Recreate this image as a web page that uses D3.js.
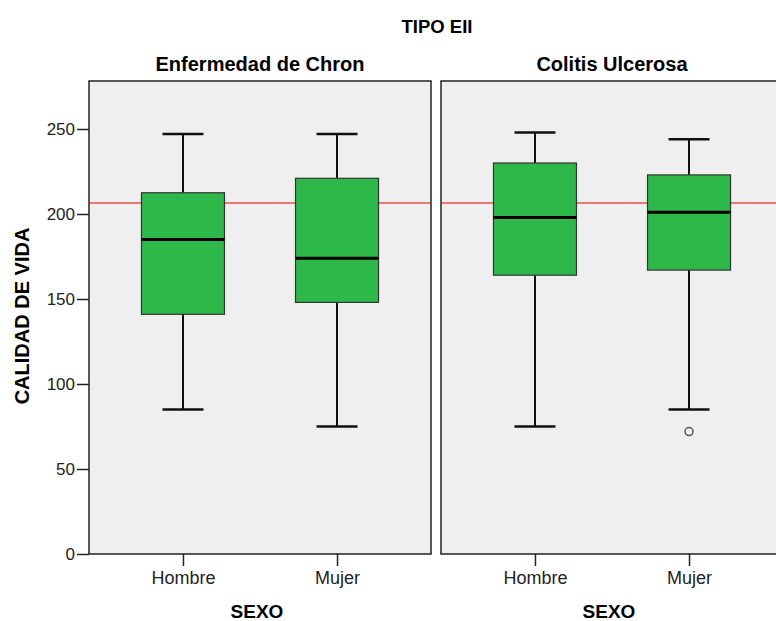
<!DOCTYPE html>
<html>
<head>
<meta charset="utf-8">
<script src="https://cdn.jsdelivr.net/npm/d3@7"></script>
<style>
  html, body { margin: 0; padding: 0; background: #ffffff; }
  svg { display: block; font-family: "Liberation Sans", Arial, sans-serif; }
</style>
</head>
<body>
<svg id="chart" width="776" height="621"></svg>
<script>
// Calidad de vida por sexo, separado por tipo de EII
const panels = ["Enfermedad de Chron", "Colitis Ulcerosa"];
const categories = ["Hombre", "Mujer"];
const yTicks = [0, 50, 100, 150, 200, 250];

// Box plot statistics, one row per panel, one entry per category
const whiskerLow  = [[85, 75], [75, 85]];
const q1          = [[141, 148], [164, 167]];
const medians     = [[185, 174], [198, 201]];
const q3          = [[212.5, 221], [230, 223]];
const whiskerHigh = [[247, 247], [248, 244]];
const outliers    = [[[], []], [[], [72]]];

// Reference line
const refValue = 206.5;

const svg = d3.select("#chart");
const width = 776;

const plotTop = 81, plotBottom = 554;
const panelWidth = 342, panelGap = 10;
const firstPanelLeft = 89;

const y = d3.scaleLinear().domain([0, 250]).range([plotBottom, plotBottom - 250 * 1.7]);

// Title
svg.append("text")
  .attr("x", 437).attr("y", 33)
  .attr("text-anchor", "middle")
  .attr("font-size", 18.5).attr("font-weight", "bold")
  .attr("fill", "#000")
  .text("TIPO EII");

// Y axis title
svg.append("text")
  .attr("transform", "translate(29,316) rotate(-90)")
  .attr("text-anchor", "middle")
  .attr("font-size", 20).attr("font-weight", "bold")
  .text("CALIDAD DE VIDA");

panels.forEach((name, p) => {
  const left = firstPanelLeft + p * (panelWidth + panelGap);
  const right = left + panelWidth;
  const x = d3.scalePoint().domain(categories).range([left, right]).padding(0.61);

  const g = svg.append("g");

  // Panel background
  g.append("rect")
    .attr("x", left).attr("y", plotTop)
    .attr("width", panelWidth).attr("height", plotBottom - plotTop)
    .attr("fill", "#efefef");

  // Reference line
  g.append("line")
    .attr("x1", left).attr("x2", right)
    .attr("y1", y(refValue)).attr("y2", y(refValue))
    .attr("stroke", "#f07575").attr("stroke-width", 2);

  const boxW = 83, capW = 41;
  categories.forEach((c, i) => {
    const cx = x(c);
    // Whiskers
    g.append("line").attr("x1", cx).attr("x2", cx)
      .attr("y1", y(q3[p][i])).attr("y2", y(whiskerHigh[p][i]))
      .attr("stroke", "#111").attr("stroke-width", 2);
    g.append("line").attr("x1", cx).attr("x2", cx)
      .attr("y1", y(q1[p][i])).attr("y2", y(whiskerLow[p][i]))
      .attr("stroke", "#111").attr("stroke-width", 2);
    g.append("line").attr("x1", cx - capW / 2).attr("x2", cx + capW / 2)
      .attr("y1", y(whiskerHigh[p][i])).attr("y2", y(whiskerHigh[p][i]))
      .attr("stroke", "#111").attr("stroke-width", 2.5);
    g.append("line").attr("x1", cx - capW / 2).attr("x2", cx + capW / 2)
      .attr("y1", y(whiskerLow[p][i])).attr("y2", y(whiskerLow[p][i]))
      .attr("stroke", "#111").attr("stroke-width", 2.5);
    // Box
    g.append("rect")
      .attr("x", cx - boxW / 2).attr("y", y(q3[p][i]))
      .attr("width", boxW).attr("height", y(q1[p][i]) - y(q3[p][i]))
      .attr("fill", "#2eb84a").attr("stroke", "#333").attr("stroke-width", 1.2);
    // Median
    g.append("line").attr("x1", cx - boxW / 2).attr("x2", cx + boxW / 2)
      .attr("y1", y(medians[p][i])).attr("y2", y(medians[p][i]))
      .attr("stroke", "#000").attr("stroke-width", 3);
    // Outliers
    outliers[p][i].forEach(v => {
      g.append("circle").attr("cx", cx).attr("cy", y(v)).attr("r", 4)
        .attr("fill", "none").attr("stroke", "#555").attr("stroke-width", 1.5);
    });
  });

  // Panel frame
  g.append("rect")
    .attr("x", left).attr("y", plotTop)
    .attr("width", panelWidth).attr("height", plotBottom - plotTop)
    .attr("fill", "none").attr("stroke", "#222").attr("stroke-width", 1.5);

  // Panel title
  svg.append("text")
    .attr("x", (left + right) / 2).attr("y", 71)
    .attr("text-anchor", "middle")
    .attr("font-size", 20).attr("font-weight", "bold")
    .text(name);

  // X axis
  const xAxis = svg.append("g")
    .attr("transform", `translate(0,${plotBottom})`)
    .call(d3.axisBottom(x).tickSize(12).tickPadding(5));
  xAxis.select(".domain").remove();
  xAxis.selectAll(".tick line").attr("stroke", "#222").attr("stroke-width", 1.5);
  xAxis.selectAll(".tick text").attr("font-size", 18).attr("fill", "#222")
    .attr("font-family", "'Liberation Sans', Arial, sans-serif");

  // X axis title
  svg.append("text")
    .attr("x", (left + right) / 2 - 3).attr("y", 618)
    .attr("text-anchor", "middle")
    .attr("font-size", 19).attr("font-weight", "bold")
    .text("SEXO");
});

// Y axis
const yAxis = svg.append("g")
  .attr("transform", `translate(${firstPanelLeft},0)`)
  .call(d3.axisLeft(y).tickValues(yTicks).tickSize(12).tickPadding(2));
yAxis.select(".domain").remove();
yAxis.selectAll(".tick line").attr("stroke", "#222").attr("stroke-width", 1.5);
yAxis.selectAll(".tick text").attr("font-size", 17).attr("fill", "#222")
  .attr("font-family", "'Liberation Sans', Arial, sans-serif");
</script>
</body>
</html>
